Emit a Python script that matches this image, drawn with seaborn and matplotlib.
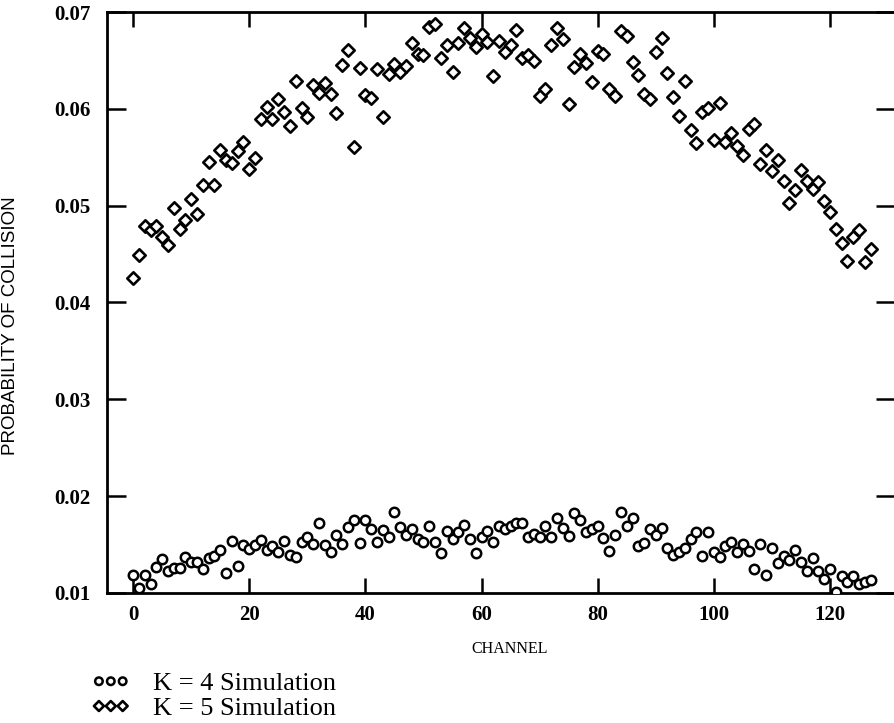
import matplotlib
matplotlib.use("Agg")
import matplotlib.pyplot as plt
import pandas as pd
import seaborn as sns

# Per-channel collision probability from the simulation runs
channels = list(range(128))

k4_sim = [
    0.01189, 0.01048, 0.01189, 0.01093, 0.01265, 0.01351, 0.01230, 0.01255, 0.01255, 0.01368,
    0.01316, 0.01323, 0.01247, 0.01358, 0.01378, 0.01447, 0.01206, 0.01539, 0.01275, 0.01495,
    0.01454, 0.01495, 0.01550, 0.01447, 0.01481, 0.01426, 0.01539, 0.01392, 0.01368, 0.01529,
    0.01574, 0.01505, 0.01722, 0.01495, 0.01426, 0.01598, 0.01505, 0.01677, 0.01756, 0.01515,
    0.01756, 0.01660, 0.01529, 0.01653, 0.01574, 0.01832, 0.01677, 0.01598, 0.01660, 0.01556,
    0.01529, 0.01687, 0.01529, 0.01412, 0.01642, 0.01556, 0.01625, 0.01701, 0.01556, 0.01412,
    0.01574, 0.01642, 0.01529, 0.01694, 0.01660, 0.01694, 0.01720, 0.01725, 0.01574, 0.01608,
    0.01574, 0.01694, 0.01574, 0.01770, 0.01667, 0.01591, 0.01825, 0.01756, 0.01626, 0.01660,
    0.01687, 0.01564, 0.01436, 0.01598, 0.01832, 0.01687, 0.01770, 0.01481, 0.01515, 0.01660,
    0.01598, 0.01667, 0.01460, 0.01392, 0.01426, 0.01460, 0.01556, 0.01632, 0.01378, 0.01626,
    0.01426, 0.01368, 0.01488, 0.01522, 0.01426, 0.01505, 0.01436, 0.01247, 0.01505, 0.01186,
    0.01460, 0.01309, 0.01378, 0.01344, 0.01447, 0.01323, 0.01230, 0.01358, 0.01230, 0.01144,
    0.01247, 0.01014, 0.01172, 0.01117, 0.01172, 0.01093, 0.01117, 0.01130,
]

k5_sim = [
    0.0425, 0.0449, 0.0479, 0.0475, 0.0479, 0.0468, 0.0459, 0.0498, 0.0476, 0.0485,
    0.0507, 0.0491, 0.0521, 0.0545, 0.0521, 0.0558, 0.0547, 0.0544, 0.0556, 0.0566,
    0.0538, 0.0549, 0.0590, 0.0602, 0.0590, 0.0610, 0.0597, 0.0582, 0.0629, 0.0601,
    0.0592, 0.0625, 0.0616, 0.0627, 0.0615, 0.0596, 0.0645, 0.0661, 0.0561, 0.0642,
    0.0614, 0.0611, 0.0641, 0.0592, 0.0636, 0.0646, 0.0638, 0.0644, 0.0668, 0.0657,
    0.0656, 0.0685, 0.0688, 0.0653, 0.0666, 0.0638, 0.0668, 0.0683, 0.0673, 0.0664,
    0.0677, 0.0669, 0.0634, 0.0670, 0.0659, 0.0666, 0.0681, 0.0653, 0.0656, 0.0649,
    0.0613, 0.0620, 0.0666, 0.0683, 0.0672, 0.0605, 0.0643, 0.0657, 0.0647, 0.0628,
    0.0660, 0.0657, 0.0620, 0.0613, 0.0680, 0.0675, 0.0648, 0.0635, 0.0615, 0.0610,
    0.0659, 0.0673, 0.0637, 0.0612, 0.0593, 0.0629, 0.0578, 0.0565, 0.0597, 0.0601,
    0.0568, 0.0606, 0.0566, 0.0575, 0.0562, 0.0552, 0.0579, 0.0584, 0.0543, 0.0558,
    0.0536, 0.0547, 0.0525, 0.0503, 0.0516, 0.0537, 0.0525, 0.0517, 0.0524, 0.0505,
    0.0493, 0.0476, 0.0461, 0.0443, 0.0468, 0.0475, 0.0442, 0.0455,
]

series_labels = ["K = 4 Simulation", "K = 5 Simulation"]
x_ticks = [0, 20, 40, 60, 80, 100, 120]
y_ticks = [0.01, 0.02, 0.03, 0.04, 0.05, 0.06, 0.07]
y_tick_labels = ["0.01", "0.02", "0.03", "0.04", "0.05", "0.06", "0.07"]

sns.set_theme(style="white")
plt.rcParams["font.family"] = ["Liberation Serif", "DejaVu Serif"]
plt.rcParams["text.color"] = "black"
plt.rcParams["axes.labelcolor"] = "black"
plt.rcParams["xtick.color"] = "black"
plt.rcParams["ytick.color"] = "black"

W, H = 895, 723
fig = plt.figure(figsize=(W / 100, H / 100), dpi=100)
left, right, top, bottom = 107, 895, 12, 593
ax = fig.add_axes([left / W, 1 - bottom / H, (right - left) / W, (bottom - top) / H])

df4 = pd.DataFrame({"channel": channels, "prob": k4_sim})
df5 = pd.DataFrame({"channel": channels, "prob": k5_sim})

sns.scatterplot(data=df4, x="channel", y="prob", marker="o", s=46,
                color="white", edgecolor="black", linewidth=1.8,
                label=series_labels[0], ax=ax, zorder=3)
sns.scatterplot(data=df5, x="channel", y="prob", marker="D", s=40,
                color="white", edgecolor="black", linewidth=1.9,
                label=series_labels[1], ax=ax, zorder=3)

ax.set_xlim(-4.5, 131.2)
ax.set_ylim(0.01, 0.07)
ax.set_xticks(x_ticks)
ax.set_xticklabels([str(t) for t in x_ticks])
ax.set_yticks(y_ticks)
ax.set_yticklabels(y_tick_labels)

for side in ["left", "bottom", "top"]:
    ax.spines[side].set_visible(True)
    ax.spines[side].set_color("black")
    ax.spines[side].set_linewidth(2.0)
ax.spines["right"].set_visible(False)

ax.tick_params(axis="y", which="major", direction="in", left=True, right=True,
               length=14, width=1.8, labelsize=15, pad=12)
ax.tick_params(axis="x", which="major", direction="in", bottom=True, top=True,
               length=11, width=1.8, labelsize=15, pad=9)
for lab in ax.get_xticklabels() + ax.get_yticklabels():
    lab.set_fontweight("bold")

ax.set_xlabel("CHANNEL", fontsize=11.5)
ax.xaxis.set_label_coords(0.511, -0.083)
ax.set_ylabel("PROBABILITY OF COLLISION", fontsize=13.5,
              family=["Liberation Sans Narrow", "Liberation Sans", "DejaVu Sans"])
ax.yaxis.set_label_coords(-0.112, 0.46)

ax.legend(loc="upper left", bbox_to_anchor=(91 / W, 1 - 672 / H),
          bbox_transform=fig.transFigure, frameon=False,
          scatterpoints=3, scatteryoffsets=[0.5], fontsize=19,
          handlelength=1.5, handletextpad=0.85, labelspacing=0.05,
          borderpad=0, borderaxespad=0, markerscale=0.8)

fig.savefig("out.png", dpi=100, facecolor="white")
